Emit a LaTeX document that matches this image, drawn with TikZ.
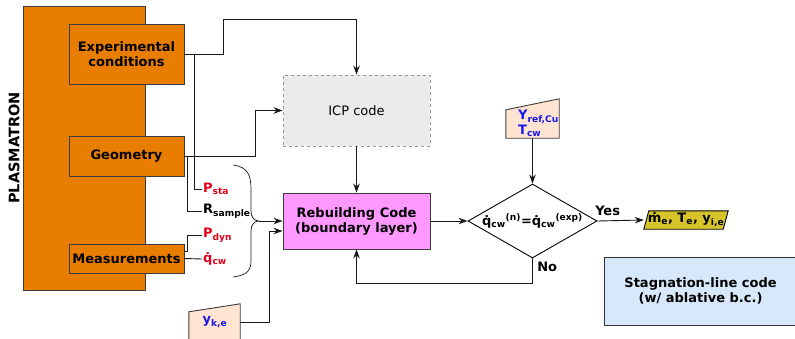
\documentclass[tikz,border=0pt]{standalone}
\usepackage{fontspec}
\setmainfont{DejaVu Sans}
\usetikzlibrary{shapes,shapes.geometric,arrows.meta,positioning,calc}
\definecolor{plasmaorange}{RGB}{232,125,0}
\definecolor{icpgray}{RGB}{235,235,235}
\definecolor{rebuildpink}{RGB}{255,153,255}
\definecolor{inputpeach}{RGB}{255,228,210}
\definecolor{outputyellow}{RGB}{214,196,42}
\definecolor{stagblue}{RGB}{214,232,250}
\definecolor{bordergray}{RGB}{60,60,60}
\definecolor{labelred}{RGB}{228,0,24}
\definecolor{labelblue}{RGB}{24,24,235}

\begin{document}
\begin{tikzpicture}[
    x=1pt, y=-1pt,
    font=\fontsize{13}{15}\selectfont\bfseries,
    src/.style={rectangle, draw=bordergray, line width=0.9pt, fill=plasmaorange, minimum width=115pt, align=center, inner sep=0pt},
    code/.style={rectangle, draw=bordergray, line width=0.9pt, minimum width=147pt, align=center, inner sep=0pt},
    decision/.style={diamond, draw=black, line width=0.9pt, minimum width=129pt, minimum height=74pt, inner sep=0pt},
    datain/.style={rectangle, inner sep=0pt, align=left, text=labelblue},
    shapeline/.style={draw=bordergray, line width=0.9pt},
    var/.style={inner sep=1pt, anchor=west},
    line/.style={draw=black!90, line width=0.9pt},
    arrow/.style={line, -{Stealth[length=9pt,width=6.5pt]}}
]
\useasboundingbox (0,0) rectangle (795,338);

% Plasmatron and its outputs
\node[src, minimum width=122pt, minimum height=284pt] (plasma) at (84,148) {};
\node[rotate=90, font=\fontsize{14.5}{16}\selectfont\bfseries] (plasmatext) at (14,148) {PLASMATRON};
\node[src, minimum height=60pt] (expcond) at (126.5,54) {Experimental\\conditions};
\node[src, minimum height=40pt] (geom) at (126.5,156) {Geometry};
\node[src, minimum height=29pt] (meas) at (126.5,258.5) {Measurements};

% Measured quantities
\node[var, text=labelred] (psta) at (202,189) {P\textsubscript{sta}};
\node[var] (rsample) at (202,211) {R\textsubscript{sample}};
\node[var, text=labelred] (pdyn) at (202,235) {P\textsubscript{dyn}};
\node[var, text=labelred] (qcw) at (202,259) {\.{q}\textsubscript{cw}};

% Codes
\node[code, dashed, draw=gray!80, fill=icpgray, minimum height=71pt, font=\fontsize{13}{15}\selectfont] (icp) at (356.5,110.5) {ICP code};
\node[code, fill=rebuildpink, minimum height=56pt] (rebuild) at (356.5,221) {Rebuilding Code\\(boundary layer)};
\node[decision] (check) at (532.5,221) {};
\node (checktext) at (check.center) {\.{q}\textsubscript{cw}\textsuperscript{(n)}=\.{q}\textsubscript{cw}\textsuperscript{(exp)}};
\node[code, draw=black!80, fill=stagblue, minimum width=193pt, minimum height=68pt] (stag) at (700.5,291) {Stagnation-line code\\(w/ ablative b.c.)};

% Inputs and output
\node[datain, minimum width=53pt, minimum height=39pt] (yref) at (532.5,118.5) {};
\draw[shapeline, fill=inputpeach] ([yshift=-11pt]yref.north west) -- (yref.north east) -- (yref.south east) -- (yref.south west) -- cycle;
\node[datain, anchor=west] (yreftext) at (518,123) {Y\textsubscript{ref,Cu}\\T\textsubscript{cw}};
\node[datain, minimum width=51pt, minimum height=36pt] (yke) at (214.5,322) {};
\draw[shapeline, fill=inputpeach] ([yshift=-8pt]yke.north west) -- (yke.north east) -- (yke.south east) -- (yke.south west) -- cycle;
\node[datain] (yketext) at (215,322) {y\textsubscript{k,e}};
\node[inner sep=0pt, minimum width=84pt, minimum height=18pt] (outvars) at (686,220) {};
\draw[draw=black, line width=0.9pt, fill=outputyellow] ([xshift=5pt]outvars.north west) -- (outvars.north east) -- ([xshift=-5pt]outvars.south east) -- (outvars.south west) -- cycle;
\node (outtext) at (outvars.center) {ṁ\textsubscript{e}, T\textsubscript{e}, y\textsubscript{i,e}};

% Brace over the measured quantities
\coordinate (bracetip) at (259,221);
\draw[line, line width=0.7pt] (233,165) .. controls (248,167) and (251,175) .. (251,190) -- (251,211)
    .. controls (251,217) and (254,221) .. (bracetip) .. controls (254,221) and (251,225) .. (251,231)
    -- (251,260) .. controls (251,270) and (248,275) .. (233,277);

% Arrows
\draw[arrow] (expcond.east) -- ++(39,0) |- ([yshift=55pt]icp.north) -- (icp.north);
\draw[arrow] (geom.east) -- ++(71,0) |- (icp.west);
\draw[line] (expcond.east) ++(10,0) |- (psta.west);
\draw[line] (geom.east) ++(3,0) |- (rsample.west);
\draw[line] ([yshift=7pt]meas.east) -- ++(3,0) |- (pdyn.west);
\draw[line] (meas.east) -- (qcw.west);

\draw[arrow] (bracetip) -- (rebuild.west);
\draw[arrow] (yke.east) -- ++(29,0) |- ([yshift=-10pt]rebuild.west);
\draw[arrow] (icp) -- (rebuild);
\draw[arrow] (rebuild) -- (check);
\draw[arrow] (yref) -- (check);
\draw[arrow] (check.east) -- node[pos=0.22, above=1pt] {Yes} (outvars.west);
\draw[arrow] (check.south) -- node[pos=0.35, right=1pt] {No} ++(0,25) -| (rebuild.south);

\end{tikzpicture}
\end{document}
